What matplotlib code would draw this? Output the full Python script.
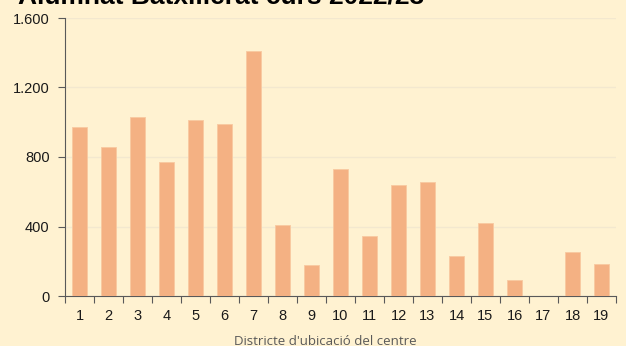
import matplotlib.pyplot as plt
from matplotlib.ticker import FuncFormatter, MultipleLocator
import numpy as np

# Alumnes per districte
districtes = [str(i) for i in range(1, 20)]
alumnes = [972, 859, 1032, 771, 1013, 990, 1412, 409, 178, 733,
           345, 639, 654, 232, 418, 90, 0, 253, 182]

fons = '#FFF2D1'
color_barra = '#F4B183'

plt.rcParams['font.family'] = ['Liberation Sans', 'DejaVu Sans']

fig = plt.figure(figsize=(6.26, 3.46), dpi=100, facecolor=fons)
ax = fig.add_axes([65 / 626, 1 - 296 / 346, 551 / 626, 278 / 346])
ax.set_facecolor(fons)

x = np.arange(len(districtes))
ax.bar(x, alumnes, width=0.55, color=color_barra, edgecolor='#F8C9A0',
       linewidth=0.6, zorder=3)

ax.set_xlim(-0.5, len(districtes) - 0.5)
ax.set_ylim(0, 1600)
ax.set_xticks(x)
ax.set_xticklabels(districtes)
ax.set_xticks(np.arange(-0.5, len(districtes)), minor=True)
ax.tick_params(axis='x', which='major', length=0, pad=9, labelsize=10.5,
               labelcolor='#1a1a1a')
ax.tick_params(axis='x', which='minor', length=5, width=0.8, color='#595959')

ax.yaxis.set_major_locator(MultipleLocator(400))
ax.yaxis.set_major_formatter(FuncFormatter(lambda v, p: f'{int(v):,}'.replace(',', '.')))
ax.tick_params(axis='y', length=5, width=0.8, color='#595959', labelsize=10.5,
               labelcolor='#1a1a1a', pad=6)
ax.grid(axis='y', color='#F3E8CF', linewidth=1.0, zorder=0)

for side in ['top', 'right']:
    ax.spines[side].set_visible(False)
for side in ['left', 'bottom']:
    ax.spines[side].set_color('#595959')
    ax.spines[side].set_linewidth(0.8)

# el títol queda retallat per la vora superior
fig.text(18 / 626, 1 - 3 / 346, 'Alumnat Batxillerat curs 2022/23',
         fontsize=19, fontweight='bold', color='black', va='baseline', ha='left')
fig.text(325 / 626, 1 - 335 / 346, "Districte d'ubicació del centre",
         fontsize=9.5, color='#595959', va='top', ha='center',
         family=['Open Sans', 'DejaVu Sans'])

fig.savefig('out.png', dpi=100, facecolor=fons)
